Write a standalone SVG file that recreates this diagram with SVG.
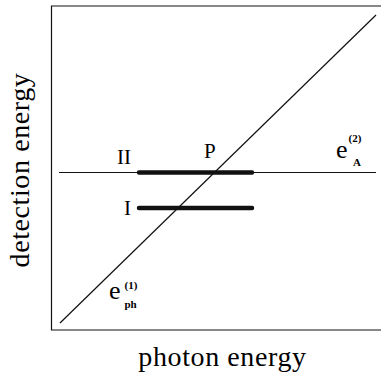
<svg xmlns="http://www.w3.org/2000/svg" width="381" height="375" viewBox="0 0 381 375">
<style>
text{font-family:'Liberation Serif','Times New Roman','DejaVu Serif',serif;fill:#000}
.ax{font-size:28px;letter-spacing:0.6px}
.lb{font-size:21px}
.big{font-size:26px}
.sm{font-size:11px;font-weight:bold}
.thin{stroke:#111;stroke-width:1.2;fill:none}
.bar{stroke:#111;stroke-width:4.5;stroke-linecap:round}
</style>
<rect width="381" height="375" fill="#fff"/>
<g id="frame">
<path class="thin" d="M381 6H51.5V330H381" stroke-width="1.6"/>
</g>
<g id="connectors">
<line class="thin" x1="60" y1="323" x2="376" y2="15"/>
<line class="thin" x1="59" y1="172.5" x2="376" y2="172.5"/>
</g>
<g id="bar-II"><line class="bar" x1="139" y1="172.5" x2="252" y2="172.5"/></g>
<g id="bar-I"><line class="bar" x1="139" y1="208" x2="252" y2="208"/></g>
<g id="label-II"><text class="lb" x="117" y="163.5">II</text></g>
<g id="label-P"><text class="lb" x="204" y="157.5" font-size="22">P</text></g>
<g id="label-I"><text class="lb" x="124" y="215">I</text></g>
<g id="label-eA">
<text class="big" x="336" y="157.5">e</text>
<text class="sm" x="353" y="165.5">A</text>
<text class="sm" x="348.5" y="142">(2)</text>
</g>
<g id="label-eph">
<text class="big" x="109" y="298.5">e</text>
<text class="sm" x="124.5" y="307.5">ph</text>
<text class="sm" x="124.5" y="289">(1)</text>
</g>
<g id="axis-x"><text class="ax" x="222.5" y="366" text-anchor="middle">photon energy</text></g>
<g id="axis-y"><text class="ax" transform="translate(29,170) rotate(-90)" text-anchor="middle">detection energy</text></g>
</svg>
